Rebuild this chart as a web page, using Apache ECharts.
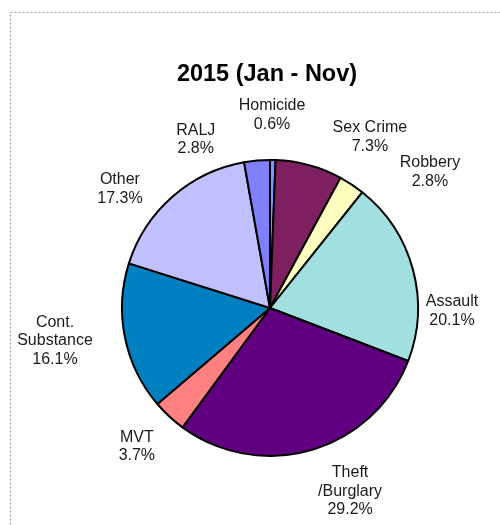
<!DOCTYPE html>
<html>
<head>
<meta charset="utf-8">
<script src="https://cdn.jsdelivr.net/npm/echarts@6/dist/echarts.min.js"></script>
<style>
html,body{margin:0;padding:0;background:#fff;}
#c{width:500px;height:525px;}
</style>
</head>
<body>
<div id="c"></div>
<script>
// ---- data ----
const categories = ["Homicide", "Sex Crime", "Robbery", "Assault", "Theft\n/Burglary", "MVT", "Cont.\nSubstance", "Other", "RALJ"];
const percents   = [0.6, 7.3, 2.8, 20.1, 29.2, 3.7, 16.1, 17.3, 2.8];
const colors     = ["#8494FF", "#7E2060", "#FFFFC0", "#A2E0E0", "#600080", "#FF8080", "#0080C0", "#C0C0FF", "#8080FF"];
const titleText  = "2015 (Jan - Nov)";

// label placement (Excel best-fit style): angle clockwise from top (deg), distance from pie centre (px)
const labelAngle = [0.6, 30.3, 49.6, 90.9, 156.4, 223.9, 261.3, 308.4, 336.2];
const labelDist  = [193, 198, 210, 182, 200, 192, 217.5, 191.5, 184];

const CX = 270, CY = 308, R = 148;

const chart = echarts.init(document.getElementById('c'), null, {renderer: 'canvas'});
chart.setOption({
  animation: false,
  backgroundColor: '#fff',
  graphic: [{
    type: 'rect',
    shape: {x: 10.5, y: 12.5, width: 600, height: 600},
    style: {fill: 'none', stroke: '#a0a0a0', lineWidth: 1, lineDash: [2, 2]},
    silent: true
  }],
  title: {
    text: titleText,
    left: 262, top: 58,
    textAlign: 'center',
    textStyle: {fontFamily: 'Liberation Sans, Arial, sans-serif', fontSize: 23.5, fontWeight: 'bold', color: '#000'}
  },
  series: [{
    type: 'pie',
    center: [CX, CY],
    radius: [0, R],
    startAngle: 90,
    clockwise: true,
    avoidLabelOverlap: false,
    data: categories.map((n, i) => ({name: n, value: percents[i], itemStyle: {color: colors[i]}})),
    itemStyle: {borderColor: '#000', borderWidth: 2},
    label: {
      show: true,
      position: 'outside',
      formatter: p => p.name + '\n' + p.value.toFixed(1) + '%',
      fontFamily: 'Liberation Sans, Arial, sans-serif',
      fontSize: 16,
      lineHeight: 18.5,
      color: '#1a1a1a',
      align: 'center'
    },
    labelLine: {show: false},
    labelLayout: function (params) {
      const i = params.dataIndex;
      const a = labelAngle[i] * Math.PI / 180;
      return {
        x: CX + labelDist[i] * Math.sin(a),
        y: CY - labelDist[i] * Math.cos(a),
        align: 'center',
        verticalAlign: 'middle'
      };
    },
    emphasis: {disabled: true}
  }]
});
</script>
</body>
</html>
